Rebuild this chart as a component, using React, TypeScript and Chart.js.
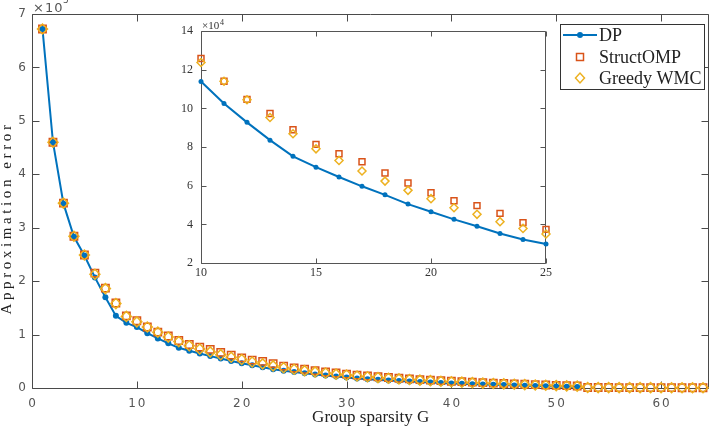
import { useEffect, useRef } from 'react';
import Chart from 'chart.js/auto';

// Group sparsity levels G
const SPARSITY = [
  1, 2, 3, 4, 5, 6, 7, 8, 9, 10, 11, 12, 13, 14, 15, 16,
  17, 18, 19, 20, 21, 22, 23, 24, 25, 26, 27, 28, 29, 30, 31, 32,
  33, 34, 35, 36, 37, 38, 39, 40, 41, 42, 43, 44, 45, 46, 47, 48,
  49, 50, 51, 52, 53, 54, 55, 56, 57, 58, 59, 60, 61, 62, 63, 64,
];

// Approximation error, in units of 1e4
const DP = [
  67.2, 46.0, 34.5, 28.3, 24.8, 20.7, 17.0, 13.5, 12.2, 11.4, 10.26, 9.28, 8.36, 7.52, 6.96, 6.45,
  5.97, 5.53, 5.05, 4.65, 4.26, 3.9, 3.53, 3.22, 2.98, 2.75, 2.52, 2.32, 2.13, 1.96, 1.8, 1.66,
  1.53, 1.41, 1.3, 1.2, 1.1, 1.01, 0.93, 0.86, 0.79, 0.72, 0.66, 0.6, 0.54, 0.48, 0.43, 0.38,
  0.33, 0.28, 0.24, 0.2,
];
const STRUCT_OMP = [
  67.2, 46.0, 34.6, 28.4, 24.9, 21.5, 18.7, 15.9, 13.5, 12.59, 11.41, 10.47, 9.74, 8.9, 8.14, 7.66,
  7.24, 6.66, 6.14, 5.64, 5.22, 4.97, 4.57, 4.09, 3.74, 3.5, 3.25, 3.0, 2.8, 2.6, 2.42, 2.25,
  2.1, 1.96, 1.83, 1.7, 1.58, 1.47, 1.37, 1.27, 1.18, 1.09, 1.0, 0.92, 0.84, 0.77, 0.7, 0.63,
  0.57, 0.5, 0.44, 0.38, 0.1, 0.09, 0.09, 0.08, 0.08, 0.07, 0.07, 0.06, 0.06, 0.05, 0.05, 0.05,
];
const GREEDY_WMC = [
  67.2, 46.0, 34.6, 28.4, 24.9, 21.3, 18.6, 15.8, 13.4, 12.38, 11.41, 10.45, 9.53, 8.69, 7.91, 7.31,
  6.76, 6.24, 5.76, 5.33, 4.86, 4.52, 4.14, 3.79, 3.5, 3.25, 3.02, 2.8, 2.6, 2.42, 2.25, 2.1,
  1.95, 1.82, 1.7, 1.58, 1.47, 1.37, 1.27, 1.18, 1.09, 1.0, 0.92, 0.84, 0.77, 0.7, 0.63, 0.57,
  0.51, 0.45, 0.39, 0.34, 0.09, 0.08, 0.08, 0.07, 0.07, 0.06, 0.06, 0.05, 0.05, 0.05, 0.04, 0.04,
];

const MAIN_X_TICKS = [0, 10, 20, 30, 40, 50, 60];
const MAIN_Y_TICKS = [0, 1, 2, 3, 4, 5, 6, 7];
const INSET_X_TICKS = [10, 15, 20, 25];
const INSET_Y_TICKS = [2, 4, 6, 8, 10, 12, 14];

const SERIES_NAMES = ['DP', 'StructOMP', 'Greedy WMC'];
const COLORS = ['#0072BD', '#D95319', '#EDB120'];
const X_TITLE = 'Group sparsity G';
const Y_TITLE = 'Approximation error';

const SERIF = '"Liberation Serif", "Times New Roman", serif';
const SANS = '"DejaVu Sans", sans-serif';

// values are stored in 1e4 units; divide to get the axis unit
function points(values: number[], divisor: number, lo = -Infinity, hi = Infinity) {
  return values
    .map((v, i) => ({ x: SPARSITY[i], y: v / divisor }))
    .filter((p) => p.x >= lo && p.x <= hi);
}

function setTicks(list: number[]) {
  return (scale: any) => {
    scale.ticks = list.map((value) => ({ value }));
  };
}

// MATLAB-style box with inward tick marks on all four sides
function framePlugin(id: string, tickLen: number, color: string, fillArea: boolean) {
  return {
    id,
    beforeDraw(chart: any) {
      if (!fillArea) return;
      const { ctx, chartArea: a } = chart;
      ctx.save();
      ctx.fillStyle = '#ffffff';
      ctx.fillRect(a.left, a.top, a.right - a.left, a.bottom - a.top);
      ctx.restore();
    },
    beforeDatasetsDraw(chart: any) {
      const { ctx, chartArea: a } = chart;
      const xs = chart.scales.x;
      const ys = chart.scales.y;
      const L = Math.floor(a.left) + 0.5;
      const R = Math.floor(a.right) - 0.5;
      const T = Math.floor(a.top) + 0.5;
      const B = Math.floor(a.bottom) + 0.5;
      ctx.save();
      ctx.strokeStyle = color;
      ctx.lineWidth = 1;
      ctx.beginPath();
      ctx.moveTo(L, T);
      ctx.lineTo(R, T);
      ctx.lineTo(R, B);
      ctx.lineTo(L, B);
      ctx.closePath();
      for (const t of xs.ticks) {
        const px = Math.round(xs.getPixelForValue(t.value)) + 0.5;
        ctx.moveTo(px, B);
        ctx.lineTo(px, B - tickLen);
        ctx.moveTo(px, T);
        ctx.lineTo(px, T + tickLen);
      }
      for (const t of ys.ticks) {
        const py = Math.round(ys.getPixelForValue(t.value)) + 0.5;
        ctx.moveTo(L, py);
        ctx.lineTo(L + tickLen, py);
        ctx.moveTo(R, py);
        ctx.lineTo(R - tickLen, py);
      }
      ctx.stroke();
      ctx.restore();
    },
  };
}

function drawMarker(ctx: CanvasRenderingContext2D, kind: number, x: number, y: number) {
  ctx.beginPath();
  if (kind === 0) {
    ctx.fillStyle = COLORS[0];
    ctx.arc(x, y, 3, 0, Math.PI * 2);
    ctx.fill();
    return;
  }
  ctx.strokeStyle = COLORS[kind];
  ctx.lineWidth = 1.5;
  if (kind === 1) {
    ctx.rect(x - 3.5, y - 3.5, 7, 7);
  } else {
    ctx.moveTo(x - 4.5, y);
    ctx.lineTo(x, y - 5);
    ctx.lineTo(x + 4.5, y);
    ctx.lineTo(x, y + 5);
    ctx.closePath();
  }
  ctx.stroke();
}

const mainDecor = {
  id: 'mainDecor',
  afterDraw(chart: any) {
    const { ctx, chartArea: a } = chart;
    const xs = chart.scales.x;

    // legend
    ctx.save();
    ctx.fillStyle = '#ffffff';
    ctx.fillRect(560.5, 24.5, 144, 65);
    ctx.strokeStyle = '#333333';
    ctx.lineWidth = 1;
    ctx.strokeRect(560.5, 24.5, 144, 65);
    const rows = [35, 57, 78];
    ctx.strokeStyle = COLORS[0];
    ctx.lineWidth = 2;
    ctx.beginPath();
    ctx.moveTo(563, rows[0]);
    ctx.lineTo(597, rows[0]);
    ctx.stroke();
    rows.forEach((ry, k) => drawMarker(ctx, k, 580, ry));
    ctx.font = `18px ${SERIF}`;
    ctx.fillStyle = '#222222';
    ctx.textAlign = 'left';
    ctx.textBaseline = 'alphabetic';
    SERIES_NAMES.forEach((name, k) => ctx.fillText(name, 599, rows[k] + 6));
    ctx.restore();

    // x tick labels, spaced digits
    ctx.save();
    ctx.font = `12px ${SANS}`;
    (ctx as any).letterSpacing = '2px';
    ctx.fillStyle = '#555555';
    ctx.textAlign = 'center';
    ctx.textBaseline = 'alphabetic';
    for (const t of xs.ticks) {
      ctx.fillText(String(t.value), xs.getPixelForValue(t.value) + 1, 407);
    }
    // axis multiplier
    ctx.textAlign = 'left';
    (ctx as any).letterSpacing = '1px';
    ctx.font = `13px ${SANS}`;
    ctx.fillText('×10', 33, 12);
    ctx.font = `9px ${SANS}`;
    ctx.fillText('5', 63, 3);
    ctx.restore();

    // y axis title, rotated and spread along the axis
    ctx.save();
    ctx.font = `15px ${SERIF}`;
    (ctx as any).letterSpacing = '3.6px';
    ctx.fillStyle = '#222222';
    ctx.textAlign = 'center';
    ctx.textBaseline = 'alphabetic';
    ctx.translate(11, (a.top + a.bottom) / 2 + 17);
    ctx.rotate(-Math.PI / 2);
    ctx.fillText(Y_TITLE, 0, 0);
    ctx.restore();
  },
};

const insetDecor = {
  id: 'insetDecor',
  afterDraw(chart: any) {
    const { ctx, chartArea: a } = chart;
    ctx.save();
    ctx.fillStyle = '#333333';
    ctx.textBaseline = 'alphabetic';
    ctx.textAlign = 'left';
    ctx.font = `11px ${SERIF}`;
    ctx.fillText('×10', a.left + 1, a.top - 2);
    ctx.font = `8px ${SERIF}`;
    ctx.fillText('4', a.left + 19, a.top - 6);
    ctx.restore();
  },
};

function datasets(divisor: number, lo: number, hi: number, sizes: { dot: number; sq: number; dia: number }) {
  return [
    {
      label: SERIES_NAMES[0],
      data: points(DP, divisor, lo, hi),
      borderColor: COLORS[0],
      backgroundColor: COLORS[0],
      borderWidth: 2,
      pointRadius: sizes.dot,
      pointBorderWidth: 0,
      pointStyle: 'circle',
      showLine: true,
      tension: 0,
      clip: false,
      order: 3,
    },
    {
      label: SERIES_NAMES[1],
      data: points(STRUCT_OMP, divisor, lo, hi),
      borderColor: COLORS[1],
      backgroundColor: 'rgba(0,0,0,0)',
      pointRadius: sizes.sq,
      pointBorderWidth: 1.5,
      pointStyle: 'rect',
      showLine: false,
      clip: false,
      order: 2,
    },
    {
      label: SERIES_NAMES[2],
      data: points(GREEDY_WMC, divisor, lo, hi),
      borderColor: COLORS[2],
      backgroundColor: 'rgba(0,0,0,0)',
      pointRadius: sizes.dia,
      pointBorderWidth: 1.5,
      pointStyle: 'rectRot',
      showLine: false,
      clip: false,
      order: 1,
    },
  ];
}

export default function App() {
  const mainRef = useRef<HTMLCanvasElement>(null);
  const insetRef = useRef<HTMLCanvasElement>(null);

  useEffect(() => {
    const main = new Chart(mainRef.current as HTMLCanvasElement, {
      type: 'scatter',
      data: { datasets: datasets(10, -Infinity, Infinity, { dot: 3, sq: 5.2, dia: 5 }) as any },
      options: {
        responsive: false,
        animation: false,
        devicePixelRatio: 1,
        layout: { padding: { top: 14, right: 0, left: 0, bottom: 0 } },
        plugins: { legend: { display: false }, tooltip: { enabled: false } },
        scales: {
          x: {
            type: 'linear',
            min: 0,
            max: 64.6,
            afterBuildTicks: setTicks(MAIN_X_TICKS),
            afterFit: (s: any) => { s.height = 40; },
            grid: { display: false, drawTicks: false },
            border: { display: false },
            ticks: { display: false },
            title: {
              display: true,
              text: X_TITLE,
              font: { family: SERIF, size: 17 },
              color: '#222222',
              padding: 0,
            },
          },
          y: {
            type: 'linear',
            min: 0,
            max: 7,
            afterBuildTicks: setTicks(MAIN_Y_TICKS),
            afterFit: (s: any) => { s.width = 32; },
            grid: { display: false, drawTicks: false },
            border: { display: false },
            ticks: { font: { family: SANS, size: 12 }, color: '#555555', padding: 6 },
          },
        },
      },
      plugins: [framePlugin('mainFrame', 7, '#4a4a4a', false), mainDecor],
    } as any);

    const inset = new Chart(insetRef.current as HTMLCanvasElement, {
      type: 'scatter',
      data: { datasets: datasets(1, 10, 25, { dot: 2.5, sq: 4.2, dia: 4 }) as any },
      options: {
        responsive: false,
        animation: false,
        devicePixelRatio: 1,
        layout: { padding: { top: 15, right: 6, left: 0, bottom: 0 } },
        plugins: { legend: { display: false }, tooltip: { enabled: false } },
        scales: {
          x: {
            type: 'linear',
            min: 10,
            max: 25,
            afterBuildTicks: setTicks(INSET_X_TICKS),
            afterFit: (s: any) => { s.height = 25; },
            grid: { display: false, drawTicks: false },
            border: { display: false },
            ticks: { font: { family: SERIF, size: 12 }, color: '#333333', padding: 3, maxRotation: 0 },
          },
          y: {
            type: 'linear',
            min: 2,
            max: 14,
            afterBuildTicks: setTicks(INSET_Y_TICKS),
            afterFit: (s: any) => { s.width = 51; },
            grid: { display: false, drawTicks: false },
            border: { display: false },
            ticks: { font: { family: SERIF, size: 12 }, color: '#333333', padding: 8 },
          },
        },
      },
      plugins: [framePlugin('insetFrame', 5, '#555555', true), insetDecor],
    } as any);

    return () => {
      main.destroy();
      inset.destroy();
    };
  }, []);

  return (
    <div
      style={{
        position: 'fixed',
        left: 0,
        top: 0,
        width: 714,
        height: 428,
        overflow: 'hidden',
        background: '#ffffff',
      }}
    >
      <canvas ref={mainRef} width={716} height={428} style={{ position: 'absolute', left: 0, top: 0 }} />
      <canvas ref={insetRef} width={405} height={272} style={{ position: 'absolute', left: 150, top: 16 }} />
    </div>
  );
}
